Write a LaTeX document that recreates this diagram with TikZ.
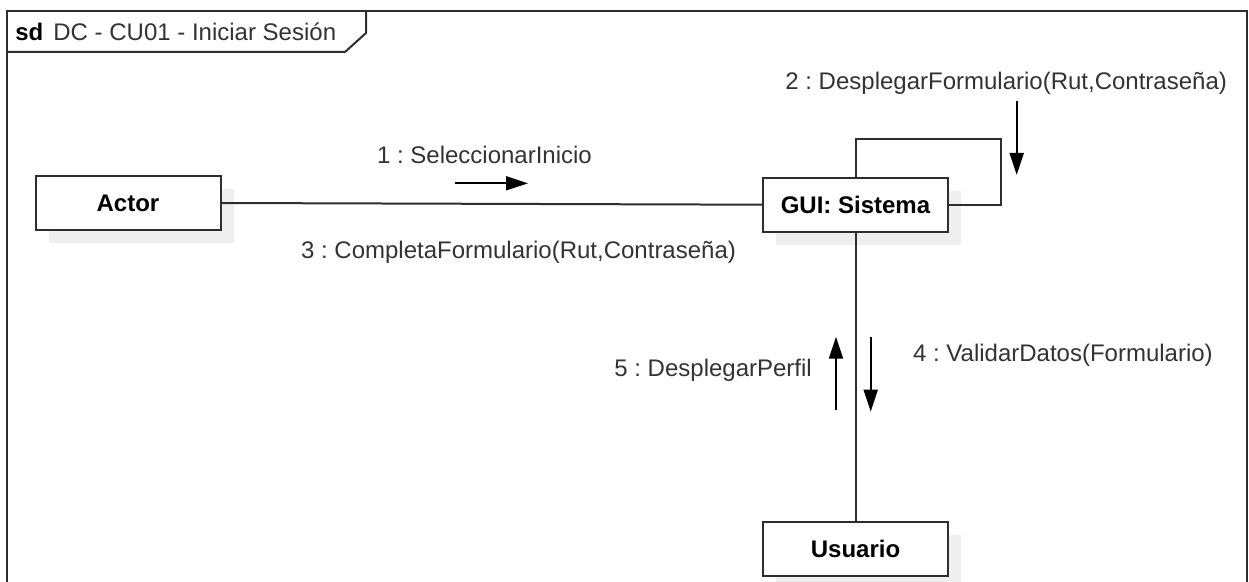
\documentclass[tikz,border=0pt]{standalone}
\usepackage{fontspec}
\setmainfont{Liberation Sans}
\usetikzlibrary{arrows.meta,shadows}
\definecolor{shadowgray}{HTML}{EFEFEF}
\definecolor{linegray}{HTML}{2E2E2E}
\definecolor{textgray}{HTML}{333333}
\frenchspacing
\begin{document}
\begin{tikzpicture}[x=0.5pt,y=-0.5pt,
  font=\fontsize{12}{14}\selectfont,
  objbox/.style={draw=linegray,line width=1pt,fill=white,minimum width=92.5pt,minimum height=27pt,
    inner sep=0pt,font=\fontsize{12}{14}\selectfont\bfseries,
    general shadow={fill=shadowgray,shadow xshift=6.5pt,shadow yshift=-6.5pt}},
  link/.style={draw=linegray,line width=1pt},
  msg/.style={draw=black,line width=1pt,-{Triangle[length=11pt,width=7pt]}},
  lbl/.style={anchor=base west,inner sep=0pt,text=textgray}]
\useasboundingbox (0,0) rectangle (1249,582);
\fill[white] (0,0) rectangle (1249,582);
% frame
\draw[linegray,line width=1pt] (7,600) -- (7,11) -- (1247,11) -- (1247,600);
\draw[linegray,line width=1pt] (7,52) -- (345,52) -- (366,33) -- (366,11);
\node[lbl,text=black,font=\fontsize{12}{14}\selectfont\bfseries] (sd) at (15,40.5) {sd};
\node[lbl] (title) at (53,40.5) {DC - CU01 - Iniciar Sesión};
% objects
\node[objbox] (actor) at (128,203) {Actor};
\node[objbox] (gui) at (855.5,204.7) {GUI: Sistema};
\node[objbox] (usuario) at (855.5,548.7) {Usuario};
% links
\draw[link] (actor.east) -- (gui.west);
\draw[link] (gui.south) -- (usuario.north);
\draw[link] (gui.north) |- (1001,139.3) |- (gui.east);
% messages
\coordinate (m1s) at (455,183.3); \coordinate (m1e) at (528,183.3);
\draw[msg] (m1s) -- (m1e);
\node[lbl] (l1) at (376.7,164) {1 : SeleccionarInicio};
\coordinate (m2s) at (1016.7,100.7); \coordinate (m2e) at (1016.7,175);
\draw[msg] (m2s) -- (m2e);
\node[lbl] (l2) at (785,90) {2 : DesplegarFormulario(Rut,Contraseña)};
\node[lbl] (l3) at (300.7,259) {3 : CompletaFormulario(Rut,Contraseña)};
\coordinate (m4s) at (870.7,336.7); \coordinate (m4e) at (870.7,411.7);
\draw[msg] (m4s) -- (m4e);
\node[lbl] (l4) at (912.7,362) {4 : ValidarDatos(Formulario)};
\coordinate (m5s) at (836,410); \coordinate (m5e) at (836,336.7);
\draw[msg] (m5s) -- (m5e);
\node[lbl] (l5) at (614,376.5) {5 : DesplegarPerfil};
\end{tikzpicture}
\end{document}
